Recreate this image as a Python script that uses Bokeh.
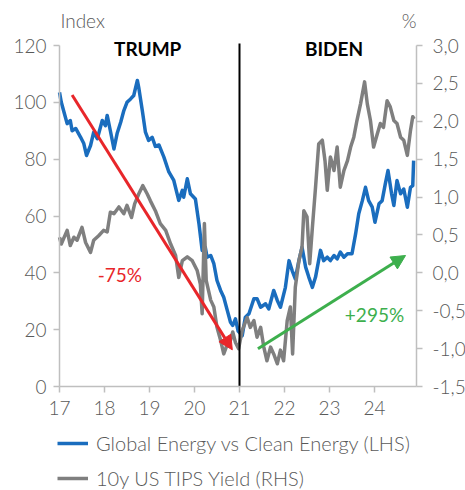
from bokeh.plotting import figure
from bokeh.models import (Range1d, LinearAxis, FixedTicker, Legend, LegendItem,
                          Label, Arrow, NormalHead)
from bokeh.embed import file_html
from bokeh.resources import INLINE

# Global Energy vs Clean Energy relative index (left axis), x in years (17 = 2017)
energy_years = [17.0, 17.04, 17.11, 17.17, 17.24, 17.28, 17.36, 17.47, 17.54, 17.6,
                17.69, 17.76, 17.84, 17.95, 18.02, 18.06, 18.13, 18.21, 18.28, 18.36,
                18.43, 18.5, 18.58, 18.65, 18.73, 18.76, 18.84, 18.91, 18.98, 19.06,
                19.13, 19.21, 19.32, 19.43, 19.54, 19.65, 19.73, 19.76, 19.84, 19.91,
                20.02, 20.1, 20.17, 20.24, 20.28, 20.36, 20.43, 20.5, 20.58, 20.65,
                20.73, 20.8, 20.85, 20.91, 20.97, 21.06, 21.13, 21.21, 21.32, 21.39,
                21.47, 21.58, 21.65, 21.76, 21.84, 21.91, 22.02, 22.1, 22.17, 22.24,
                22.32, 22.39, 22.47, 22.54, 22.62, 22.69, 22.8, 22.87, 22.95, 23.02,
                23.1, 23.17, 23.24, 23.32, 23.4, 23.5, 23.58, 23.65, 23.73, 23.8,
                23.87, 23.95, 24.01, 24.1, 24.17, 24.24, 24.3, 24.38, 24.43, 24.5,
                24.58, 24.65, 24.73, 24.8, 24.85, 24.87]
energy_index = [103.5, 100.0, 96.0, 92.5, 93.6, 90.0, 90.8, 87.7, 85.5, 81.3,
                84.8, 89.5, 87.2, 93.6, 91.8, 95.4, 90.0, 83.6, 89.0, 93.0,
                97.1, 100.0, 101.2, 102.4, 107.7, 105.3, 97.1, 89.5, 86.6, 87.7,
                84.5, 85.0, 80.7, 75.5, 72.5, 65.5, 69.0, 66.6, 73.1, 67.8,
                66.0, 57.2, 47.9, 49.0, 45.5, 46.1, 43.2, 37.3, 33.8, 31.4,
                26.7, 22.6, 21.5, 23.8, 19.5, 17.9, 24.4, 25.6, 30.9, 30.9,
                27.9, 29.1, 27.3, 33.8, 30.3, 27.9, 34.9, 44.3, 40.8, 37.9,
                44.3, 49.0, 42.0, 38.5, 34.9, 38.5, 47.9, 44.3, 45.5, 44.3,
                46.1, 44.9, 47.3, 45.5, 46.7, 46.7, 53.7, 60.8, 65.4, 70.1,
                65.4, 63.1, 57.8, 64.3, 65.4, 71.3, 76.0, 67.8, 63.7, 72.5,
                67.8, 69.5, 63.1, 70.1, 70.7, 79.5]

# 10y US TIPS real yield in % (right axis)
tips_years = [17.0, 17.04, 17.17, 17.24, 17.32, 17.39, 17.5, 17.58, 17.69, 17.76,
              17.87, 17.98, 18.06, 18.13, 18.21, 18.32, 18.43, 18.5, 18.6, 18.67,
              18.76, 18.85, 18.95, 19.02, 19.13, 19.24, 19.36, 19.47, 19.58, 19.65,
              19.73, 19.84, 19.95, 20.06, 20.13, 20.17, 20.22, 20.26, 20.36, 20.43,
              20.5, 20.58, 20.65, 20.73, 20.8, 20.85, 20.91, 20.98, 21.06, 21.17,
              21.24, 21.32, 21.39, 21.47, 21.54, 21.61, 21.69, 21.76, 21.84, 21.91,
              21.98, 22.06, 22.13, 22.18, 22.24, 22.32, 22.39, 22.43, 22.5, 22.56,
              22.62, 22.69, 22.76, 22.84, 22.9, 22.95, 23.02, 23.1, 23.17, 23.24,
              23.32, 23.4, 23.47, 23.54, 23.61, 23.69, 23.78, 23.84, 23.91, 23.98,
              24.06, 24.13, 24.2, 24.28, 24.35, 24.43, 24.5, 24.58, 24.65, 24.73,
              24.8, 24.85, 24.88]
tips_yield = [0.47, 0.38, 0.56, 0.36, 0.47, 0.43, 0.60, 0.40, 0.27, 0.43,
              0.49, 0.56, 0.54, 0.80, 0.78, 0.87, 0.78, 0.89, 0.73, 0.91,
              1.04, 1.15, 1.04, 0.95, 0.82, 0.65, 0.56, 0.38, 0.23, -0.06,
              0.16, 0.21, 0.16, 0.03, -0.15, -0.54, 0.65, -0.10, -0.36, -0.45,
              -0.72, -0.89, -1.07, -0.94, -0.89, -0.78, -0.92, -1.00, -0.76, -0.59,
              -0.72, -0.63, -0.85, -0.72, -0.98, -1.16, -0.98, -1.07, -1.20, -1.02,
              -1.16, -0.63, -0.45, -1.07, -0.19, 0.16, 0.34, 0.82, 0.74, 0.12,
              0.60, 1.13, 1.70, 1.75, 1.48, 1.09, 1.53, 1.35, 1.66, 1.13,
              1.35, 1.48, 1.66, 1.79, 2.01, 2.23, 2.52, 2.23, 2.01, 1.66,
              1.83, 1.97, 1.92, 2.27, 2.19, 2.01, 1.97, 1.79, 1.75, 1.55,
              1.88, 2.06, 2.03]

year_ticks = [17, 18, 19, 20, 21, 22, 23, 24]
lhs_ticks = [0, 20, 40, 60, 80, 100, 120]
rhs_ticks = [-1.5, -1.0, -0.5, 0.0, 0.5, 1.0, 1.5, 2.0, 2.5, 3.0]
rhs_tick_labels = ["-1,5", "-1,0", "-0,5", "0,0", "0,5", "1,0", "1,5", "2,0", "2,5", "3,0"]

# Presidency split and the two trend arrows with their captions
term_change_x = [21, 21]
term_change_y = [0, 120.7]
trump_arrow_x = [17.28, 20.84]
trump_arrow_y = [102.6, 12.9]
trump_change = "-75%"
trump_change_pos = (18.34, 39.4)
biden_arrow_x = [21.41, 24.69]
biden_arrow_y = [13.3, 46.1]
biden_change = "+295%"
biden_change_pos = (24.0, 25.2)
president_names = ["TRUMP", "BIDEN"]
president_name_x = [18.96, 23.1]
president_name_y = 118.9
unit_caption_y = 128.8

BLUE = "#1A6DBE"
GREY = "#7F7F7F"
RED = "#E8262A"
GREEN = "#3DAF4D"
TEXT = "#595959"
AXIS = "#BFBFBF"
FONT = "Lato Light"

W, H = 465, 490
# Plot area in canvas pixels: left 59, right 416, value 0 at 386, value 120 at 45.
# The frame fills the whole canvas; the axes are pinned to the plot-area edges,
# so tick labels, captions and the legend all live inside the frame.
AREA_LEFT, AREA_RIGHT, AREA_BOTTOM = 59, 416, 386
PX_PER_YEAR = 45.0
PX_PER_UNIT = 341 / 120
X_START, X_END = 17.0, 17.0 + (AREA_RIGHT - AREA_LEFT) / PX_PER_YEAR
LHS_MIN = -(H - AREA_BOTTOM) / PX_PER_UNIT
LHS_MAX = AREA_BOTTOM / PX_PER_UNIT
RHS_MIN = -1.5 + LHS_MIN * 4.5 / 120
RHS_MAX = -1.5 + LHS_MAX * 4.5 / 120

p = figure(width=W, height=H, output_backend="svg", toolbar_location=None,
           x_range=Range1d(X_START - AREA_LEFT / PX_PER_YEAR,
                           X_START + (W - AREA_LEFT) / PX_PER_YEAR),
           y_range=Range1d(LHS_MIN, LHS_MAX),
           min_border=0, y_axis_location=None, x_axis_location=None)
p.outline_line_color = None
p.grid.visible = False
p.background_fill_color = "white"
p.border_fill_color = "white"
p.extra_y_ranges = {"rhs": Range1d(RHS_MIN, RHS_MAX)}


def style_axis(ax, standoff):
    ax.axis_line_color = AXIS
    ax.axis_line_width = 1.5
    ax.major_tick_line_color = AXIS
    ax.major_tick_line_width = 1.5
    ax.major_tick_in = 0
    ax.major_tick_out = 6
    ax.minor_tick_line_color = None
    ax.major_label_text_font = FONT
    ax.major_label_text_font_size = "19px"
    ax.major_label_text_color = TEXT
    ax.major_label_standoff = standoff


xa = LinearAxis(ticker=FixedTicker(ticks=year_ticks), fixed_location=0,
                bounds=(X_START, X_END))
style_axis(xa, 8)
p.add_layout(xa, "below")

ya = LinearAxis(ticker=FixedTicker(ticks=lhs_ticks), fixed_location=X_START,
                bounds=(0, 120))
style_axis(ya, 7)
p.add_layout(ya, "left")

ra = LinearAxis(y_range_name="rhs", ticker=FixedTicker(ticks=rhs_ticks),
                fixed_location=X_END, bounds=(-1.5, 3.0))
ra.major_label_overrides = {t: s for t, s in zip(rhs_ticks, rhs_tick_labels)}
style_axis(ra, 10)
p.add_layout(ra, "right")

energy_line = p.line(energy_years, energy_index, line_color=BLUE, line_width=3.5,
                     line_join="round")
tips_line = p.line(tips_years, tips_yield, y_range_name="rhs", line_color=GREY,
                   line_width=3.5, line_join="round")

p.line(term_change_x, term_change_y, line_color="black", line_width=2)

for xs, ys, col in ((trump_arrow_x, trump_arrow_y, RED),
                    (biden_arrow_x, biden_arrow_y, GREEN)):
    p.add_layout(Arrow(x_start=xs[0], y_start=ys[0], x_end=xs[1], y_end=ys[1],
                       line_color=col, line_width=3,
                       end=NormalHead(size=14, fill_color=col, line_color=col)))

for txt, pos, col in ((trump_change, trump_change_pos, RED),
                      (biden_change, biden_change_pos, GREEN)):
    p.add_layout(Label(x=pos[0], y=pos[1], text=txt, text_color=col,
                       text_font="Lato", text_font_size="19px",
                       text_align="center", text_baseline="middle"))

for name, nx in zip(president_names, president_name_x):
    p.add_layout(Label(x=nx, y=president_name_y, text=name, text_color="black",
                       text_font="Lato", text_font_style="bold",
                       text_font_size="19px", text_align="center",
                       text_baseline="middle"))

# Unit captions over each value axis
p.add_layout(Label(x=17.02, y=unit_caption_y, text="Index",
                   text_font=FONT, text_font_size="19px", text_color=TEXT,
                   text_align="left", text_baseline="middle"))
p.add_layout(Label(x=24.77, y=unit_caption_y, text="%",
                   text_font=FONT, text_font_size="19px", text_color=TEXT,
                   text_align="center", text_baseline="middle"))

legend = Legend(items=[
    LegendItem(label="Global Energy vs Clean Energy (LHS)", renderers=[energy_line]),
    LegendItem(label="10y US TIPS Yield (RHS)", renderers=[tips_line]),
], location=(AREA_LEFT - 2, 0), orientation="vertical")
legend.margin = 0
legend.padding = 0
legend.border_line_color = None
legend.background_fill_alpha = 0
legend.glyph_width = 31
legend.glyph_height = 20
legend.label_height = 20
legend.spacing = 11
legend.label_standoff = 8
legend.label_text_font = FONT
legend.label_text_font_size = "20px"
legend.label_text_color = TEXT
p.add_layout(legend, "center")

open("out.html", "w").write(file_html(p, INLINE))
